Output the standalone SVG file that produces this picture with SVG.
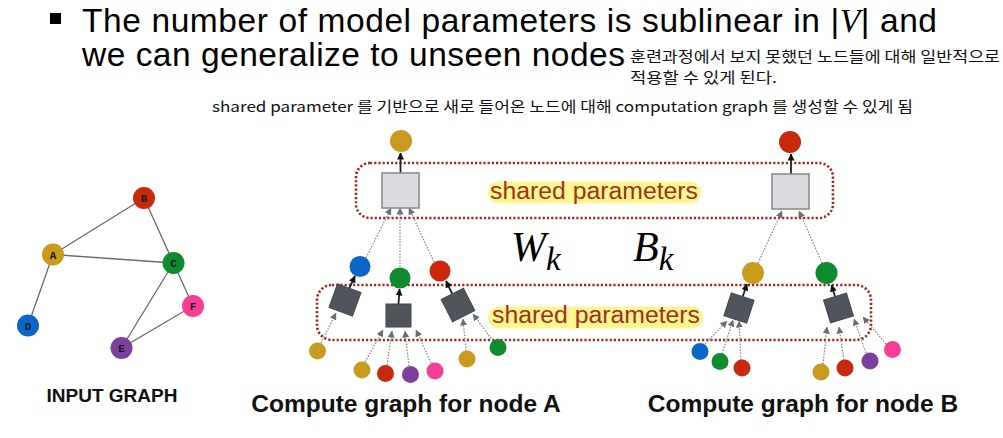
<svg xmlns="http://www.w3.org/2000/svg" width="1003" height="438" viewBox="0 0 1003 438">
<defs>
<style>
.title{font-family:"Liberation Sans",Arial,sans-serif;font-size:33.5px;fill:#000}
.kr{font-family:"Noto Sans CJK KR","Noto Sans",sans-serif;font-size:14.5px;fill:#111}
.sp{font-family:"Liberation Sans",Arial,sans-serif;font-size:23px;fill:#a2301f}
.hl{fill:#fbf78e}
.cap{font-family:"Liberation Sans",Arial,sans-serif;font-weight:bold;fill:#111}
.math{font-family:"Liberation Serif","Times New Roman",serif;font-style:italic;fill:#000}
.dot{fill:none;stroke:#9e2a22;stroke-width:2.6;stroke-dasharray:2.2 2}
.lsq{fill:#dcdde0;stroke:#8c8c8c;stroke-width:1.6}
.dsq{fill:#50555c;stroke:#43474d;stroke-width:1}
.out{stroke:#222;stroke-width:1.8;fill:none}
.in{stroke:#8a8a8a;stroke-width:1.2;stroke-dasharray:1.6 1.4;fill:none}
.edge{stroke:#6a6a6a;stroke-width:1.3}
.lbl{font-family:"Liberation Mono","Courier New",monospace;font-weight:bold;font-size:11px;fill:#1a1a1a;text-anchor:middle}
.gold{fill:#c89b1f}.red{fill:#c8290c}.green{fill:#0e8a2f}.blue{fill:#0b66c9}.purple{fill:#7b3f9d}.pink{fill:#f93d97}
</style>
<marker id="ab" viewBox="0 0 8 8" refX="7.5" refY="4" markerWidth="7" markerHeight="7" markerUnits="userSpaceOnUse" orient="auto"><path d="M0,0 L8,4 L0,8 z" fill="#111"/></marker>
<marker id="ag" viewBox="0 0 8 8" refX="7.5" refY="4" markerWidth="7" markerHeight="7" markerUnits="userSpaceOnUse" orient="auto"><path d="M0,0 L8,4 L0,8 z" fill="#6a6e74"/></marker>
</defs>
<rect width="1003" height="438" fill="#fff"/>

<!-- title -->
<rect x="50" y="13" width="11" height="11" fill="#000"/>
<text class="title" x="82" y="31.5" textLength="855" lengthAdjust="spacing">The number of model parameters is sublinear in |<tspan font-family="Liberation Serif,serif" font-style="italic">V</tspan>| and</text>
<text class="title" x="82" y="65.5" textLength="543" lengthAdjust="spacing">we can generalize to unseen nodes</text>
<text class="kr" x="630" y="62" textLength="370" lengthAdjust="spacingAndGlyphs">훈련과정에서 보지 못했던 노드들에 대해 일반적으로</text>
<text class="kr" x="630" y="83" textLength="147" lengthAdjust="spacingAndGlyphs">적용할 수 있게 된다.</text>
<text class="kr" x="212" y="112" textLength="701" lengthAdjust="spacingAndGlyphs">shared parameter 를 기반으로 새로 들어온 노드에 대해 computation graph 를 생성할 수 있게 됨</text>

<!-- input graph -->
<g id="input-edges">
<line class="edge" x1="53" y1="254.5" x2="144" y2="198"/>
<line class="edge" x1="53" y1="254.5" x2="173.5" y2="263"/>
<line class="edge" x1="53" y1="254.5" x2="28" y2="325.5"/>
<line class="edge" x1="144" y1="198" x2="173.5" y2="263"/>
<line class="edge" x1="173.5" y1="263" x2="121.5" y2="348"/>
<line class="edge" x1="173.5" y1="263" x2="193" y2="306"/>
<line class="edge" x1="121.5" y1="348" x2="193" y2="306"/>
</g>
<g id="in-B"><circle class="red" cx="144" cy="198" r="11"/><text class="lbl" x="144" y="202">B</text></g>
<g id="in-A"><circle class="gold" cx="53" cy="254.5" r="11"/><text class="lbl" x="53" y="258.5">A</text></g>
<g id="in-C"><circle class="green" cx="173.5" cy="263" r="11"/><text class="lbl" x="173.5" y="267">C</text></g>
<g id="in-F"><circle class="pink" cx="193" cy="306" r="11"/><text class="lbl" x="193" y="310">F</text></g>
<g id="in-D"><circle class="blue" cx="28" cy="325.5" r="11"/><text class="lbl" x="28" y="329.5">D</text></g>
<g id="in-E"><circle class="purple" cx="121.5" cy="348" r="11"/><text class="lbl" x="121.5" y="352">E</text></g>
<text class="cap" x="112" y="402" font-size="19" text-anchor="middle">INPUT GRAPH</text>

<!-- shared parameter regions -->
<g id="shared-top">
<rect class="dot" x="356" y="163" width="477" height="55" rx="14"/>
<rect class="hl" x="488" y="181.5" width="213" height="22" rx="11"/>
<text class="sp" x="490" y="199" textLength="208" lengthAdjust="spacingAndGlyphs">shared parameters</text>
</g>
<g id="shared-bottom">
<rect class="dot" x="317" y="285" width="554" height="55" rx="15"/>
<rect class="hl" x="488" y="306.5" width="215" height="22" rx="11"/>
<text class="sp" x="492" y="323" textLength="208" lengthAdjust="spacingAndGlyphs">shared parameters</text>
</g>
<g id="weights">
<text class="math" x="511" y="261" font-size="42">W<tspan font-size="33" dy="9">k</tspan></text>
<text class="math" x="633" y="261" font-size="42">B<tspan font-size="33" dy="9">k</tspan></text>
</g>

<!-- connectors -->
<g id="connectors">
<line class="out" x1="400.5" y1="173" x2="400.5" y2="153" marker-end="url(#ab)"/>
<line class="out" x1="791" y1="174" x2="791" y2="154" marker-end="url(#ab)"/>
<line class="in" x1="366" y1="258" x2="391" y2="208" marker-end="url(#ag)"/>
<line class="in" x1="400" y1="267" x2="400" y2="208" marker-end="url(#ag)"/>
<line class="in" x1="434" y1="262" x2="409" y2="208" marker-end="url(#ag)"/>
<line class="in" x1="758" y1="263" x2="782" y2="211" marker-end="url(#ag)"/>
<line class="in" x1="822" y1="263" x2="799" y2="211" marker-end="url(#ag)"/>
<line class="out" x1="349.3" y1="288.3" x2="355" y2="276" marker-end="url(#ab)"/>
<line class="out" x1="398.5" y1="304" x2="399.5" y2="289" marker-end="url(#ab)"/>
<line class="out" x1="452.3" y1="294" x2="446" y2="281" marker-end="url(#ab)"/>
<line class="out" x1="742.7" y1="296.6" x2="747" y2="284" marker-end="url(#ab)"/>
<line class="out" x1="835" y1="296.5" x2="831.5" y2="285" marker-end="url(#ab)"/>
<line class="in" x1="321" y1="343" x2="336" y2="313" marker-end="url(#ag)"/>
<line class="in" x1="365" y1="362" x2="383" y2="330" marker-end="url(#ag)"/>
<line class="in" x1="387" y1="365" x2="392" y2="331" marker-end="url(#ag)"/>
<line class="in" x1="409" y1="366" x2="405" y2="331" marker-end="url(#ag)"/>
<line class="in" x1="431" y1="363" x2="416" y2="330" marker-end="url(#ag)"/>
<line class="in" x1="466" y1="351" x2="463" y2="319" marker-end="url(#ag)"/>
<line class="in" x1="493" y1="341" x2="473" y2="314" marker-end="url(#ag)"/>
<line class="in" x1="705" y1="344" x2="727" y2="321" marker-end="url(#ag)"/>
<line class="in" x1="722" y1="354" x2="733" y2="320" marker-end="url(#ag)"/>
<line class="in" x1="741" y1="360" x2="739" y2="321" marker-end="url(#ag)"/>
<line class="in" x1="823" y1="364" x2="827" y2="327" marker-end="url(#ag)"/>
<line class="in" x1="844" y1="360" x2="839" y2="327" marker-end="url(#ag)"/>
<line class="in" x1="866" y1="353" x2="854" y2="319" marker-end="url(#ag)"/>
<line class="in" x1="886" y1="344" x2="863" y2="317" marker-end="url(#ag)"/>
</g>

<!-- compute graph A -->
<g id="A-root"><circle class="gold" cx="401" cy="141" r="11"/></g>
<g id="A-agg"><rect class="lsq" x="382" y="173" width="37" height="35"/></g>
<g id="A-b"><circle class="blue" cx="360" cy="266.5" r="10.5"/></g>
<g id="A-c"><circle class="green" cx="400" cy="278" r="10.5"/></g>
<g id="A-d"><circle class="red" cx="440" cy="271" r="10.5"/></g>
<g id="A-sq1"><rect class="dsq" x="-12.5" y="-12.5" width="25" height="25" transform="translate(345 300) rotate(20)"/></g>
<g id="A-sq2"><rect class="dsq" x="386" y="304" width="25" height="23"/></g>
<g id="A-sq3"><rect class="dsq" x="-12.5" y="-12.5" width="25" height="25" transform="translate(458 305) rotate(-27)"/></g>
<g id="A-l1"><circle class="gold" cx="317.5" cy="351" r="8.5"/></g>
<g id="A-l2"><circle class="gold" cx="362" cy="370" r="8.5"/></g>
<g id="A-l3"><circle class="red" cx="385.5" cy="373.5" r="8.5"/></g>
<g id="A-l4"><circle class="purple" cx="410.5" cy="374.5" r="8.5"/></g>
<g id="A-l5"><circle class="pink" cx="435" cy="371" r="8.5"/></g>
<g id="A-l6"><circle class="gold" cx="467" cy="359" r="8.5"/></g>
<g id="A-l7"><circle class="green" cx="498" cy="347.5" r="8.5"/></g>
<text class="cap" x="406" y="412" font-size="24.5" text-anchor="middle">Compute graph for node A</text>

<!-- compute graph B -->
<g id="B-root"><circle class="red" cx="790" cy="142" r="11"/></g>
<g id="B-agg"><rect class="lsq" x="772" y="174" width="37" height="35"/></g>
<g id="B-a"><circle class="gold" cx="753" cy="273" r="11"/></g>
<g id="B-c"><circle class="green" cx="826.5" cy="273" r="11"/></g>
<g id="B-sq1"><rect class="dsq" x="-12" y="-12" width="24" height="24" transform="translate(739 308) rotate(18)"/></g>
<g id="B-sq2"><rect class="dsq" x="-12" y="-12" width="24" height="24" transform="translate(838.5 308) rotate(-17)"/></g>
<g id="B-l1"><circle class="blue" cx="700" cy="351.5" r="8.5"/></g>
<g id="B-l2"><circle class="green" cx="720" cy="361.5" r="8.5"/></g>
<g id="B-l3"><circle class="red" cx="742" cy="368" r="8.5"/></g>
<g id="B-l4"><circle class="gold" cx="821" cy="372" r="8.5"/></g>
<g id="B-l5"><circle class="red" cx="845" cy="368" r="8.5"/></g>
<g id="B-l6"><circle class="purple" cx="870" cy="361" r="8.5"/></g>
<g id="B-l7"><circle class="pink" cx="892.5" cy="349.5" r="8.5"/></g>
<text class="cap" x="803" y="412" font-size="24.5" text-anchor="middle">Compute graph for node B</text>
</svg>
